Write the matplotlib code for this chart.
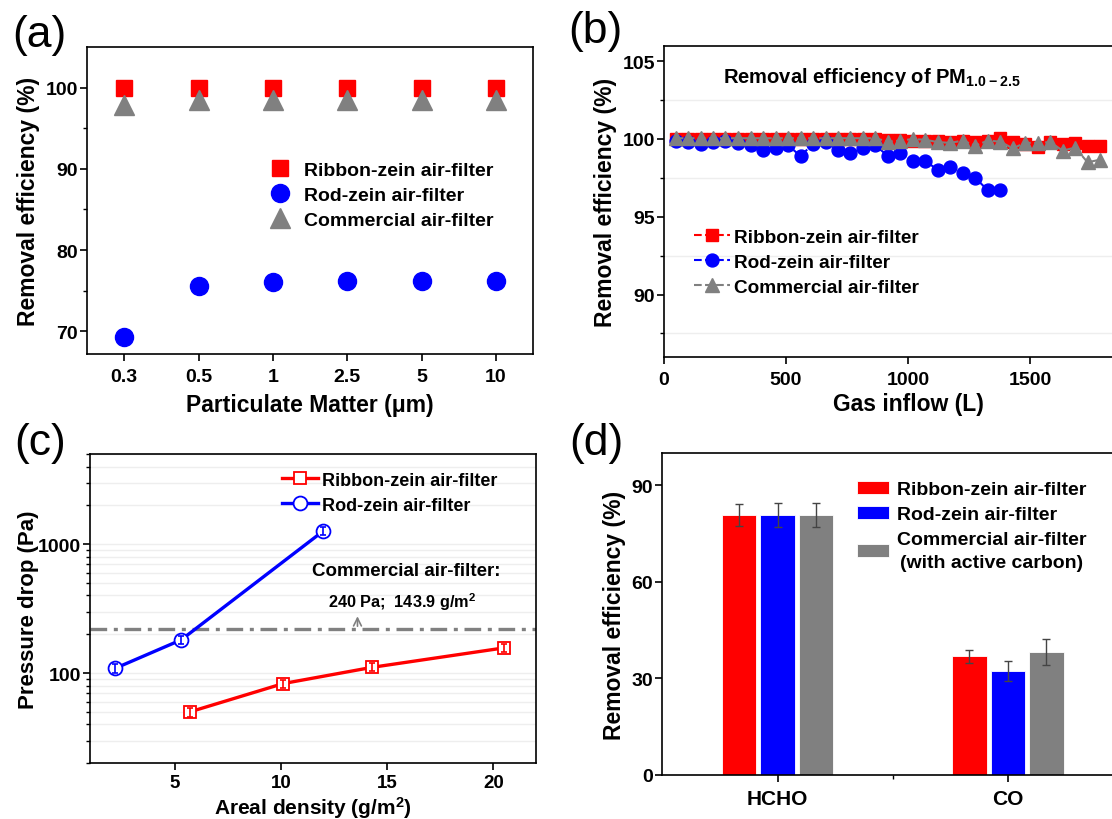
import matplotlib
matplotlib.use('Agg')
import matplotlib.pyplot as plt
from matplotlib.ticker import LogLocator, NullFormatter, FixedLocator, FixedFormatter

plt.rcParams['font.family'] = ['Liberation Sans', 'DejaVu Sans']
plt.rcParams['font.weight'] = 'bold'
plt.rcParams['axes.labelweight'] = 'bold'
plt.rcParams['mathtext.fontset'] = 'custom'
plt.rcParams['mathtext.rm'] = 'Liberation Sans:bold'
plt.rcParams['mathtext.bf'] = 'Liberation Sans:bold'
plt.rcParams['mathtext.default'] = 'bf'
plt.rcParams['axes.linewidth'] = 1.2
plt.rcParams['xtick.major.width'] = 1.2
plt.rcParams['ytick.major.width'] = 1.2
plt.rcParams['xtick.minor.width'] = 1.0
plt.rcParams['ytick.minor.width'] = 1.0
plt.rcParams['xtick.major.size'] = 5
plt.rcParams['ytick.major.size'] = 5
plt.rcParams['ytick.minor.size'] = 3
plt.rcParams['xtick.minor.size'] = 3
plt.rcParams['xtick.major.pad'] = 5
plt.rcParams['ytick.major.pad'] = 1.5

# (a) removal efficiency vs particle size
pm_sizes = ['0.3', '0.5', '1', '2.5', '5', '10']
pm_ribbon = [100, 100, 100, 100, 100, 100]
pm_rod = [69.3, 75.6, 76.1, 76.2, 76.2, 76.2]
pm_commercial = [97.9, 98.5, 98.5, 98.5, 98.5, 98.5]

# (b) removal efficiency of PM1.0-2.5 vs gas inflow
inflow = [48, 99, 150, 201, 252, 304, 355, 406, 457, 508, 560, 611, 662, 713,
          764, 815, 866, 918, 969, 1020, 1071, 1122, 1173, 1225, 1276, 1327,
          1378, 1429, 1480, 1531, 1583, 1634, 1685, 1736, 1787]
inflow_ribbon = [100.0, 100.0, 100.0, 100.0, 100.0, 100.0, 100.0, 100.0, 100.0,
                 100.0, 100.0, 100.0, 100.0, 100.0, 100.0, 100.0, 100.0, 99.95,
                 99.95, 99.9, 99.85, 99.85, 99.8, 99.85, 99.8, 99.9, 100.05,
                 99.8, 99.7, 99.5, 99.8, 99.7, 99.75, 99.55, 99.55]
inflow_rod = [99.9, 99.8, 99.7, 99.8, 99.85, 99.75, 99.6, 99.3, 99.4, 99.6,
              98.9, 99.7, 99.8, 99.3, 99.1, 99.4, 99.6, 98.9, 99.1, 98.6,
              98.6, 98.0, 98.2, 97.8, 97.5, 96.7, 96.7]
inflow_commercial = [100.05, 100.05, 100.05, 100.05, 100.05, 100.05, 100.05,
                     100.05, 100.05, 100.05, 100.05, 100.05, 100.05, 100.05,
                     100.05, 100.05, 100.05, 99.83, 99.9, 100.0, 99.95, 99.8,
                     99.75, 99.9, 99.57, 99.9, 99.83, 99.4, 99.75, 99.75,
                     99.8, 99.25, 99.45, 98.5, 98.67]

# (c) pressure drop vs areal density
rod_density = [2.2, 5.3, 12.0]
rod_drop = [109, 181, 1268]
rod_err = [8, 14, 95]
ribbon_density = [5.7, 10.1, 14.3, 20.5]
ribbon_drop = [50, 83, 111, 157]
ribbon_err = [4, 6, 8, 11]
commercial_drop = 220

# (d) gas removal
gases = ['HCHO', 'CO']
gas_ribbon = [80.8, 36.9]
gas_ribbon_err = [3.5, 2.0]
gas_rod = [80.8, 32.3]
gas_rod_err = [3.6, 3.0]
gas_commercial = [80.8, 38.2]
gas_commercial_err = [3.6, 4.0]

W, H = 1112, 820
fig = plt.figure(figsize=(W / 100, H / 100), dpi=100)


def box(left, top, right, bottom):
    return [left / W, 1 - bottom / H, (right - left) / W, (bottom - top) / H]


RED, BLUE, GRAY = '#ff0000', '#0000ff', '#808080'
tick_fs = 14
lab_fs = 16.5

# ---------- (a)
ax = fig.add_axes(box(87, 48, 533, 355))
xa = range(len(pm_sizes))
ax.plot(xa, pm_ribbon, 's', color=RED, ms=11.5, label='Ribbon-zein air-filter', zorder=3)
ax.plot(xa, pm_rod, 'o', color=BLUE, ms=13, label='Rod-zein air-filter', zorder=3)
ax.plot(xa, pm_commercial, '^', color=GRAY, ms=14, label='Commercial air-filter', zorder=3)
ax.set_xlim(-0.5, 5.5)
ax.set_ylim(67.2, 105)
ax.set_xticks(list(xa))
ax.set_xticklabels(pm_sizes)
ax.yaxis.set_major_locator(FixedLocator([70, 80, 90, 100]))
ax.yaxis.set_minor_locator(FixedLocator([75, 85, 95]))
ax.tick_params(labelsize=tick_fs)
ax.set_xlabel('Particulate Matter (μm)', fontsize=lab_fs, va='top')
ax.xaxis.set_label_coords(0.5, -0.128)
ax.set_ylabel('Removal efficiency (%)', fontsize=lab_fs)
ax.yaxis.set_label_coords(-0.106, 0.5)
ax.legend(loc='center left', bbox_to_anchor=(0.411, 0.518), frameon=False,
          fontsize=14, handlelength=1.0, handletextpad=0.74, labelspacing=0.38,
          borderpad=0, borderaxespad=0)
fig.text(39 / W, 1 - 35 / H, '(a)', fontsize=32, fontweight='normal', ha='center', va='center')

# ---------- (b)
ax = fig.add_axes(box(664, 46.7, 1152, 357.7))
ax.plot(inflow, inflow_ribbon, '--s', color=RED, ms=8.6, lw=1.5, label='Ribbon-zein air-filter')
ax.plot(inflow[:len(inflow_rod)], inflow_rod, '--o', color=BLUE, ms=9.3, lw=1.5, label='Rod-zein air-filter')
ax.plot(inflow, inflow_commercial, '--^', color=GRAY, ms=9.8, lw=1.5, label='Commercial air-filter')
ax.set_xlim(0, 2000)
ax.set_ylim(86, 106)
ax.xaxis.set_major_locator(FixedLocator([0, 500, 1000, 1500]))
ax.yaxis.set_major_locator(FixedLocator([90, 95, 100, 105]))
ax.yaxis.set_minor_locator(FixedLocator([87.5, 92.5, 97.5, 102.5]))
ax.grid(True, which='minor', axis='y', color='#eeeeee', lw=1)
ax.tick_params(labelsize=tick_fs)
ax.set_xlabel('Gas inflow (L)', fontsize=lab_fs, va='top')
ax.xaxis.set_label_coords(0.5, -0.112)
ax.set_ylabel('Removal efficiency (%)', fontsize=lab_fs)
ax.yaxis.set_label_coords(-0.096, 0.5)
ax.text(240, 104.0, 'Removal efficiency of PM$_{1.0-2.5}$', fontsize=14.5, va='center', ha='left')
ax.legend(loc='center left', bbox_to_anchor=(0.061, 0.304), frameon=False,
          fontsize=13.7, handlelength=1.9, handletextpad=0.24, labelspacing=0.42,
          borderpad=0, borderaxespad=0)
fig.text(595 / W, 1 - 32 / H, '(b)', fontsize=32, fontweight='normal', ha='center', va='center')

# ---------- (c)
ax = fig.add_axes(box(89.7, 455, 536, 764.3))
ax.set_yscale('log')
ax.plot(ribbon_density, ribbon_drop, '-s', color=RED, mfc='white', mec=RED, ms=9,
        mew=1.3, lw=2.4, label='Ribbon-zein air-filter', zorder=3)
ax.plot(rod_density, rod_drop, '-o', color=BLUE, mfc='white', mec=BLUE, ms=10,
        mew=1.3, lw=2.4, label='Rod-zein air-filter', zorder=3)
ax.errorbar(ribbon_density, ribbon_drop, yerr=ribbon_err, fmt='none', ecolor=RED,
            elinewidth=1.2, capsize=2.5, capthick=1.2, zorder=4)
ax.errorbar(rod_density, rod_drop, yerr=rod_err, fmt='none', ecolor=BLUE,
            elinewidth=1.2, capsize=2.5, capthick=1.2, zorder=4)
ax.axhline(commercial_drop, color=GRAY, lw=2.4, dashes=(5, 2, 1.2, 2), zorder=2)
ax.annotate('', xy=(13.6, 290), xytext=(13.6, commercial_drop),
            arrowprops=dict(arrowstyle='->', color=GRAY, lw=1.2, mutation_scale=14))
ax.text(15.9, 630, 'Commercial air-filter:', fontsize=13.5, ha='center', va='center')
ax.text(15.7, 362, '240 Pa;  143.9 g/m$^2$', fontsize=11.7, ha='center', va='center')
ax.set_xlim(1, 22)
ax.set_ylim(20, 5000)
ax.xaxis.set_major_locator(FixedLocator([5, 10, 15, 20]))
ax.yaxis.set_major_locator(FixedLocator([100, 1000]))
ax.yaxis.set_major_formatter(FixedFormatter(['100', '1000']))
ax.yaxis.set_minor_locator(LogLocator(base=10, subs=range(2, 10)))
ax.yaxis.set_minor_formatter(NullFormatter())
ax.grid(True, which='both', axis='y', color='#eeeeee', lw=1)
ax.set_axisbelow(True)
ax.tick_params(labelsize=tick_fs)
ax.tick_params(axis='x', labelsize=13.5, pad=3)
ax.set_xlabel('Areal density (g/m$^2$)', fontsize=15, va='top')
ax.xaxis.set_label_coords(0.5, -0.1)
ax.set_ylabel('Pressure drop (Pa)', fontsize=16)
ax.yaxis.set_label_coords(-0.113, 0.5)
ax.legend(loc='center left', bbox_to_anchor=(0.431, 0.875), frameon=False,
          fontsize=13, handlelength=2.0, handletextpad=0.22, labelspacing=0.45,
          borderpad=0, borderaxespad=0)
fig.text(40 / W, 1 - 444 / H, '(c)', fontsize=32, fontweight='normal', ha='center', va='center')

# ---------- (d)
ax = fig.add_axes(box(662.4, 454.3, 1123, 775.7))
xd = [1, 2]
bw = 0.15
off = 0.167
ek = dict(elinewidth=1.0, capsize=3, capthick=1.0, ecolor='#444444')
ax.bar([x - off for x in xd], gas_ribbon, bw, yerr=gas_ribbon_err, color=RED,
       edgecolor='white', lw=0.6, error_kw=ek, label='Ribbon-zein air-filter')
ax.bar(xd, gas_rod, bw, yerr=gas_rod_err, color=BLUE,
       edgecolor='white', lw=0.6, error_kw=ek, label='Rod-zein air-filter')
ax.bar([x + off for x in xd], gas_commercial, bw, yerr=gas_commercial_err, color=GRAY,
       edgecolor='white', lw=0.6, error_kw=ek,
       label='Commercial air-filter\n(with active carbon)')
ax.set_xlim(0.5, 2.5)
ax.set_ylim(0, 100)
ax.set_xticks(xd)
ax.set_xticklabels(gases)
ax.set_xticks([1.5], minor=True)
ax.yaxis.set_major_locator(FixedLocator([0, 30, 60, 90]))
ax.tick_params(labelsize=tick_fs)
ax.tick_params(axis='x', labelsize=15)
ax.set_ylabel('Removal efficiency (%)', fontsize=lab_fs)
ax.yaxis.set_label_coords(-0.080, 0.5)
leg = ax.legend(loc='center left', bbox_to_anchor=(0.423, 0.774), frameon=False,
                fontsize=14, handlelength=1.65, handleheight=0.65,
                handletextpad=0.41, labelspacing=0.4, borderpad=0, borderaxespad=0)
for t in leg.get_texts():
    t.set_multialignment('center')
    t.set_linespacing(1.45)
fig.text(596 / W, 1 - 444 / H, '(d)', fontsize=32, fontweight='normal', ha='center', va='center')

fig.savefig('out.png', dpi=100, facecolor='white')
